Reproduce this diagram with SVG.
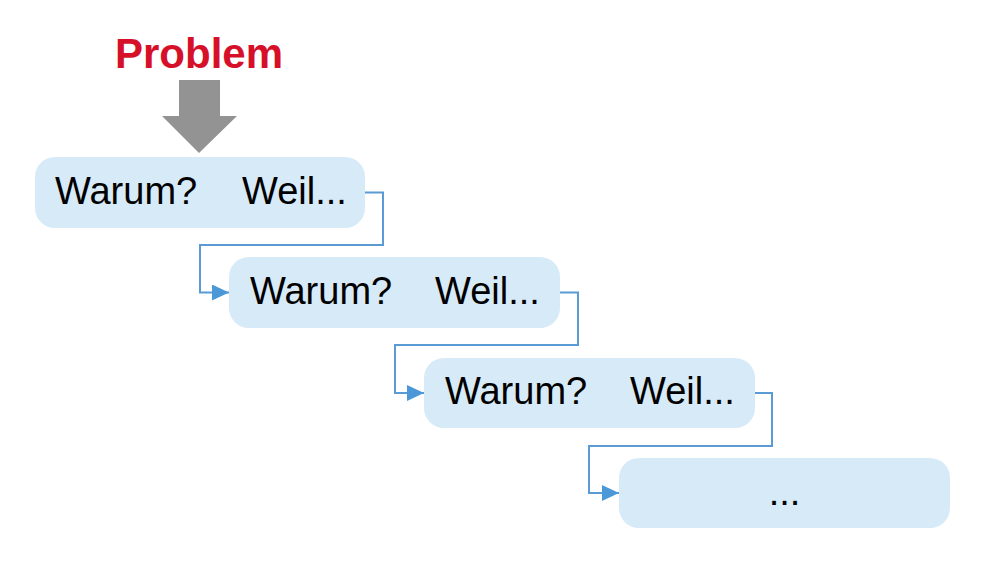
<svg xmlns="http://www.w3.org/2000/svg" width="986" height="569" viewBox="0 0 986 569">
  <defs>
    <marker id="arr" markerWidth="18" markerHeight="16" refX="17" refY="8" orient="auto" markerUnits="userSpaceOnUse">
      <path d="M0,0 L17,8 L0,16 Z" fill="#4A98D8"/>
    </marker>
  </defs>
  <style>
    .box { fill: #D6EAF8; }
    .t { font-family: "Liberation Sans", Arial, sans-serif; font-size: 38px; fill: #000; }
    .conn { fill: none; stroke: #5B9BD5; stroke-width: 2; }
    .title { font-family: "Liberation Sans", Arial, sans-serif; font-size: 42px; font-weight: bold; fill: #D7102A; }
  </style>
  <rect width="986" height="569" fill="#fff"/>
  <g id="problem">
    <text class="title" x="115" y="68">Problem</text>
    <path d="M179,80 H220 V116 H237 L199,153 L162,116 H179 Z" fill="#939393"/>
  </g>
  <g id="node1">
    <rect class="box" x="35" y="157" width="330" height="71" rx="20"/>
    <text class="t" y="204"><tspan x="55">Warum?</tspan><tspan x="242">Weil...</tspan></text>
  </g>
  <g id="node2">
    <rect class="box" x="229" y="257" width="331" height="71" rx="20"/>
    <text class="t" y="304"><tspan x="250">Warum?</tspan><tspan x="435">Weil...</tspan></text>
  </g>
  <g id="node3">
    <rect class="box" x="424" y="358" width="331" height="70" rx="20"/>
    <text class="t" y="404"><tspan x="445">Warum?</tspan><tspan x="630">Weil...</tspan></text>
  </g>
  <g id="node4">
    <rect class="box" x="619" y="458" width="331" height="70" rx="20"/>
    <text class="t" x="784.5" y="505" text-anchor="middle">...</text>
  </g>
  <g id="connectors">
    <path class="conn" d="M365,192.5 H383 V245 H200 V292.5 H229" marker-end="url(#arr)"/>
    <path class="conn" d="M560,292.5 H578 V345 H395 V393 H424" marker-end="url(#arr)"/>
    <path class="conn" d="M755,393 H772 V446 H589 V493 H619" marker-end="url(#arr)"/>
  </g>
</svg>
